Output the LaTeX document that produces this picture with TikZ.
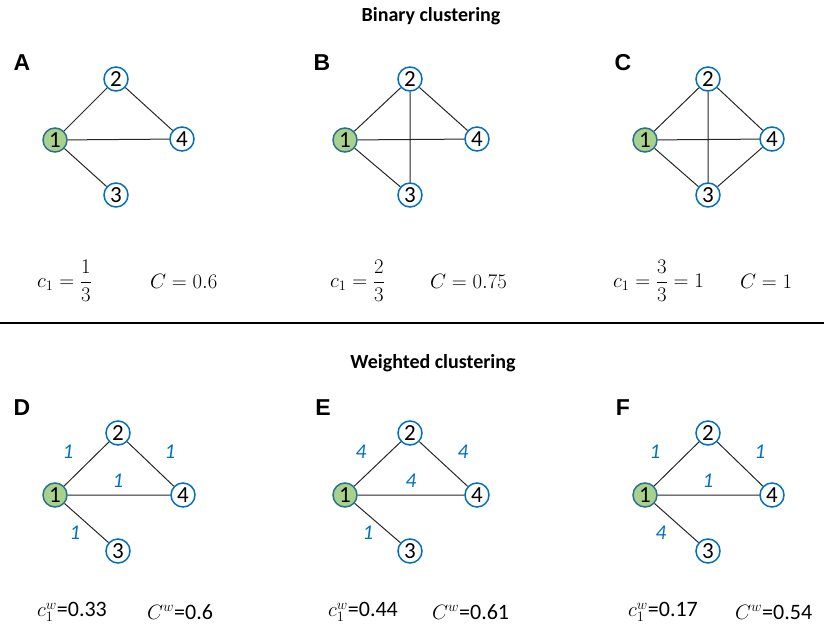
\documentclass[tikz,border=0pt]{standalone}
\usepackage{fontspec}
\setmainfont{Carlito}
\newfontfamily\letterfont{Liberation Sans}
\definecolor{nblue}{RGB}{0,112,192}
\definecolor{ngreen}{RGB}{169,209,142}
\begin{document}
\begin{tikzpicture}[x=1pt,y=-1pt,
 vtx/.style={circle,draw=nblue,line width=1.5pt,fill=white,minimum size=24pt,inner sep=0pt,font=\fontsize{23}{23}\selectfont},
 src/.style={vtx,fill=ngreen,draw=nblue!70!ngreen!80!black},
 edge/.style={line width=1pt,black!85},
 wt/.style={text=nblue,font=\fontsize{21}{21}\selectfont\itshape},
 panel/.style={font=\letterfont\bfseries\fontsize{23}{23}\selectfont},
 title/.style={font=\bfseries\fontsize{20}{20}\selectfont},
 frm/.style={font=\fontsize{21}{24}\selectfont, anchor=west, inner sep=0pt},
 wfrm/.style={font=\fontsize{22}{24}\selectfont, anchor=west, inner sep=0pt}]
\useasboundingbox (0,0) rectangle (824,637);
% titles
\node[title] (t1) at (431,16) {Binary clustering};
\node[title] (t2) at (433,363) {Weighted clustering};
\draw[line width=1.3pt] (0,323) -- (824,323);
% panel letters
\node[panel] (LA) at (22,63) {A};
\node[panel] (LB) at (322,63) {B};
\node[panel] (LC) at (623,63) {C};
\node[panel] (LD) at (22,408) {D};
\node[panel] (LE) at (323,408) {E};
\node[panel] (LF) at (623,408) {F};
% Panel A
\node[src] (a1) at (55,140) {1};
\node[vtx] (a2) at (116,79) {2};
\node[vtx] (a4) at (182,139) {4};
\node[vtx] (a3) at (116,195) {3};
\draw[edge] (a1)--(a2) (a1)--(a4) (a1)--(a3) (a2)--(a4);
% Panel B
\node[src] (b1) at (345,140) {1};
\node[vtx] (b2) at (410,79) {2};
\node[vtx] (b4) at (477,139) {4};
\node[vtx] (b3) at (410,195) {3};
\draw[edge] (b1)--(b2) (b1)--(b4) (b1)--(b3) (b2)--(b4) (b2)--(b3);
% Panel C
\node[src] (c1) at (645,140) {1};
\node[vtx] (c2) at (708,79) {2};
\node[vtx] (c4) at (772,139) {4};
\node[vtx] (c3) at (708,195) {3};
\draw[edge] (c1)--(c2) (c1)--(c4) (c1)--(c3) (c2)--(c4) (c2)--(c3) (c3)--(c4);
% Panel D
\node[src] (d1) at (55,495) {1};
\node[vtx] (d2) at (118,433) {2};
\node[vtx] (d4) at (183,495) {4};
\node[vtx] (d3) at (118,551) {3};
\draw[edge] (d1)--(d2) (d1)--(d4) (d1)--(d3) (d2)--(d4);
\node[wt] (dw12) at (68,452) {1};
\node[wt] (dw24) at (170,452) {1};
\node[wt] (dw14) at (118,481) {1};
\node[wt] (dw13) at (75,533) {1};
% Panel E
\node[src] (e1) at (345,495) {1};
\node[vtx] (e2) at (410,433) {2};
\node[vtx] (e4) at (477,495) {4};
\node[vtx] (e3) at (410,551) {3};
\draw[edge] (e1)--(e2) (e1)--(e4) (e1)--(e3) (e2)--(e4);
\node[wt] (ew12) at (361,452) {4};
\node[wt] (ew24) at (463,452) {4};
\node[wt] (ew14) at (411,481) {4};
\node[wt] (ew13) at (368,533) {1};
% Panel F
\node[src] (f1) at (645,495) {1};
\node[vtx] (f2) at (708,433) {2};
\node[vtx] (f4) at (772,495) {4};
\node[vtx] (f3) at (708,551) {3};
\draw[edge] (f1)--(f2) (f1)--(f4) (f1)--(f3) (f2)--(f4);
\node[wt] (fw12) at (655,452) {1};
\node[wt] (fw24) at (760,452) {1};
\node[wt] (fw14) at (708,481) {1};
\node[wt] (fw13) at (661,533) {4};
% binary formulas
\node[frm] (fa1) at (37,281) {$c_1=\displaystyle\frac{1}{3}$};
\node[frm] (fa2) at (150,281) {$C=0.6$};
\node[frm] (fb1) at (330,281) {$c_1=\displaystyle\frac{2}{3}$};
\node[frm] (fb2) at (430,281) {$C=0.75$};
\node[frm] (fc1) at (613,281) {$c_1=\displaystyle\frac{3}{3}=1$};
\node[frm] (fc2) at (740,281) {$C=1$};
% weighted formulas
\node[wfrm] (fd1) at (37,612) {$c_1^w$=0.33};
\node[wfrm] (fd2) at (147,612) {$C^w$=0.6};
\node[wfrm] (fe1) at (328,612) {$c_1^w$=0.44};
\node[wfrm] (fe2) at (432,612) {$C^w$=0.61};
\node[wfrm] (ff1) at (628,612) {$c_1^w$=0.17};
\node[wfrm] (ff2) at (735,612) {$C^w$=0.54};
\end{tikzpicture}
\end{document}
